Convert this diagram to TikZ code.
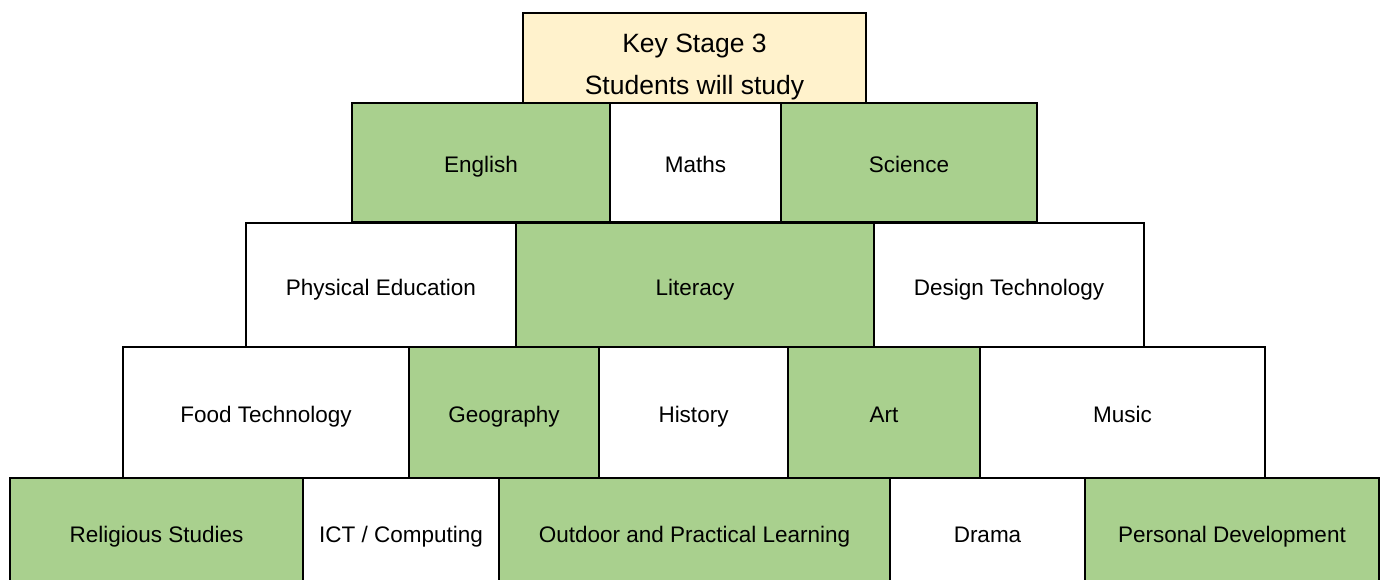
\documentclass[tikz,border=0pt]{standalone}
\usepackage{fontspec}
\setmainfont{Liberation Sans}
\definecolor{kgreen}{HTML}{A9D08E}
\definecolor{kyellow}{HTML}{FFF2CC}
\begin{document}
\begin{tikzpicture}[x=1pt,y=-1pt,
  brick/.style={draw=black, line width=1.6pt, rectangle, inner sep=0pt, outer sep=0pt,
    font=\fontsize{22.5}{27}\selectfont, text height=24pt, text depth=4pt},
  gbrick/.style={brick, fill=kgreen},
  wbrick/.style={brick, fill=white}]
\useasboundingbox (0,0) rectangle (1384,580);
\begin{scope}
\clip (0,0) rectangle (1384,580);
% top box
\node[brick, fill=kyellow, minimum width=343pt, minimum height=90pt] (ks) at (694.5,58) {};
\node[align=center, inner sep=0pt, font=\fontsize{26.5}{42}\selectfont] (kst) at (694.5,67) {Key Stage 3\\Students will study};
% row 1
\node[gbrick, minimum width=258pt, minimum height=119pt] (eng) at (481,162.5) {English};
\node[wbrick, minimum width=171pt, minimum height=119pt] (mat) at (695.5,162.5) {Maths};
\node[gbrick, minimum width=256pt, minimum height=119pt] (sci) at (909,162.5) {Science};
% row 2
\node[wbrick, minimum width=270pt, minimum height=124pt] (pe) at (381,285) {Physical Education};
\node[gbrick, minimum width=358pt, minimum height=124pt] (lit) at (695,285) {Literacy};
\node[wbrick, minimum width=270pt, minimum height=124pt] (dt) at (1009,285) {Design Technology};
% row 3
\node[wbrick, minimum width=286pt, minimum height=131pt] (food) at (266,412.5) {Food Technology};
\node[gbrick, minimum width=190pt, minimum height=131pt] (geo) at (504,412.5) {Geography};
\node[wbrick, minimum width=189pt, minimum height=131pt] (his) at (693.5,412.5) {History};
\node[gbrick, minimum width=192pt, minimum height=131pt] (art) at (884,412.5) {Art};
\node[wbrick, minimum width=285pt, minimum height=131pt] (mus) at (1122.5,412.5) {Music};
% row 4
\node[gbrick, minimum width=293pt, minimum height=108pt] (rs) at (156.5,532) {Religious Studies};
\node[wbrick, minimum width=196pt, minimum height=108pt] (ict) at (401,532) {ICT / Computing};
\node[gbrick, minimum width=391pt, minimum height=108pt] (out) at (694.5,532) {Outdoor and Practical Learning};
\node[wbrick, minimum width=195pt, minimum height=108pt] (dra) at (987.5,532) {Drama};
\node[gbrick, minimum width=294pt, minimum height=108pt] (pd) at (1232,532) {Personal Development};
\end{scope}
\end{tikzpicture}
\end{document}
